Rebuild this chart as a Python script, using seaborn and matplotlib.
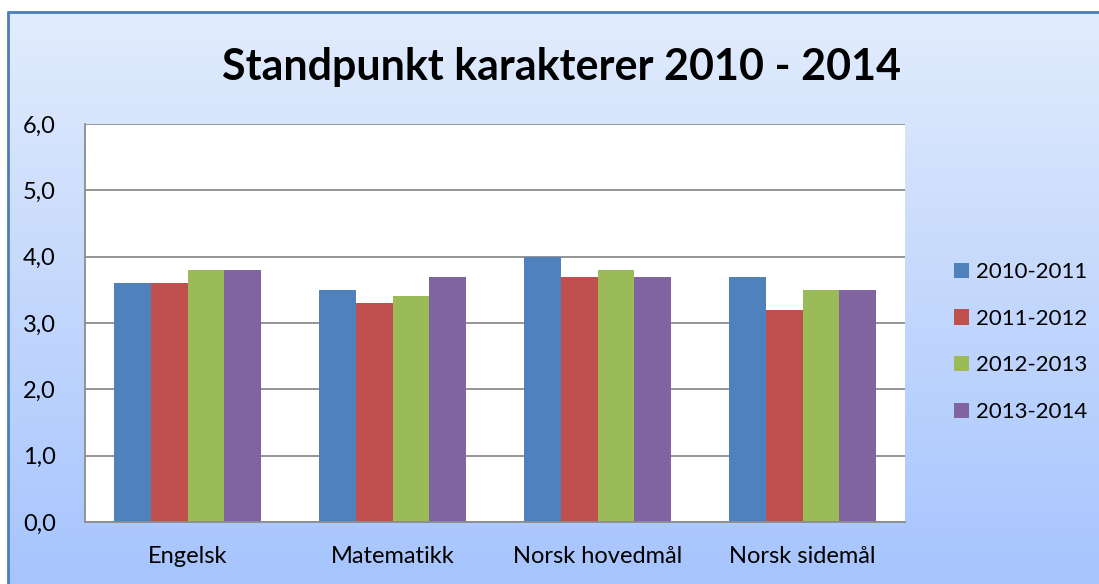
import numpy as np
import pandas as pd
import matplotlib.pyplot as plt
import seaborn as sns
from matplotlib.lines import Line2D

# data
subjects = ['Engelsk', 'Matematikk', 'Norsk hovedmål', 'Norsk sidemål']
years = ['2010-2011', '2011-2012', '2012-2013', '2013-2014']
v_2010_2011 = [3.6, 3.5, 4.0, 3.7]
v_2011_2012 = [3.6, 3.3, 3.7, 3.2]
v_2012_2013 = [3.8, 3.4, 3.8, 3.5]
v_2013_2014 = [3.8, 3.7, 3.7, 3.5]
y_ticks = [0, 1, 2, 3, 4, 5, 6]

colors = ['#4F81BD', '#C0504D', '#9BBB59', '#8064A2']


def main():
    sns.set_style('white')
    plt.rcParams['font.family'] = ['Lato', 'DejaVu Sans']
    plt.rcParams['text.color'] = 'black'

    rows = []
    for year, vals in zip(years, [v_2010_2011, v_2011_2012, v_2012_2013, v_2013_2014]):
        for subj, v in zip(subjects, vals):
            rows.append({'fag': subj, 'aar': year, 'karakter': v})
    df = pd.DataFrame(rows)

    W, H = 1099, 584
    fig = plt.figure(figsize=(W / 100, H / 100), dpi=100)
    fig.patch.set_facecolor('white')

    # gradient background of the chart area, framed only top and left (rest is cut off)
    x0, y1 = 8 / W, 1 - 12 / H
    bg = fig.add_axes([x0, 0, 1 - x0, y1])
    bg.set_axis_off()
    grad = np.linspace(0, 1, 256).reshape(-1, 1)
    top = np.array([0xE2, 0xEC, 0xFC]) / 255
    bot = np.array([0xA6, 0xC4, 0xFE]) / 255
    img = top + grad[..., None] * (bot - top)
    bg.imshow(img, extent=[0, 1, 0, 1], aspect='auto', zorder=0)
    bg.set_xlim(0, 1)
    bg.set_ylim(0, 1)
    fig.add_artist(Line2D([x0, 1], [y1, y1], color='#4A7EBB', linewidth=2, transform=fig.transFigure))
    fig.add_artist(Line2D([x0, x0], [0, y1], color='#4A7EBB', linewidth=2, transform=fig.transFigure))

    left, right, top_px, bottom_px = 85, 905, 124, 522
    ax = fig.add_axes([left / W, 1 - bottom_px / H, (right - left) / W, (bottom_px - top_px) / H])
    ax.set_facecolor('white')

    sns.barplot(data=df, x='fag', y='karakter', hue='aar', hue_order=years, order=subjects,
                palette=colors, width=0.72, gap=0, saturation=1, ax=ax, linewidth=0, errorbar=None)

    ax.set_ylim(0, 6)
    ax.set_yticks(y_ticks)
    ax.set_yticklabels([f'{t:.1f}'.replace('.', ',') for t in y_ticks])
    ax.yaxis.grid(True, color='#8C8C8C', linewidth=1.3)
    ax.set_axisbelow(True)
    ax.set_xlabel('')
    ax.set_ylabel('')
    for s in ['top', 'right']:
        ax.spines[s].set_visible(False)
    for s in ['left', 'bottom']:
        ax.spines[s].set_color('#8C8C8C')
        ax.spines[s].set_linewidth(1.3)
    ax.tick_params(axis='both', length=0, labelsize=17, colors='black')
    ax.tick_params(axis='y', pad=21)
    ax.tick_params(axis='x', pad=17)

    handles, labels = ax.get_legend_handles_labels()
    ax.legend(handles, labels, loc='center left', bbox_to_anchor=(934 / W, 1 - 342 / H),
              bbox_transform=fig.transFigure, frameon=False, fontsize=16,
              handlelength=0.68, handleheight=0.68, handletextpad=0.3, labelspacing=1.2)

    fig.text(562 / W, 1 - 67 / H, 'Standpunkt karakterer 2010 - 2014', ha='center', va='center',
             fontsize=31, fontweight='bold', color='black')

    plt.savefig('out.png', dpi=100)


if __name__ == '__main__':
    main()
